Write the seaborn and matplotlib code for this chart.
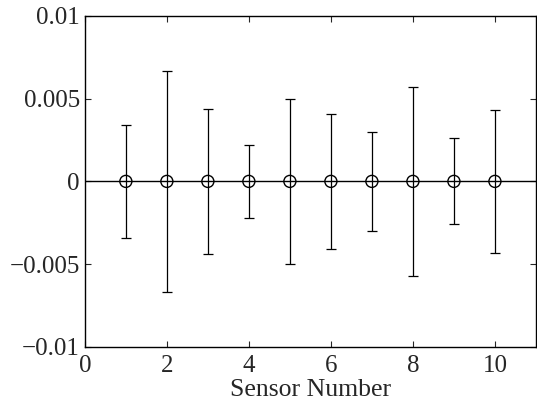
import numpy as np
import pandas as pd
import seaborn as sns
import matplotlib.pyplot as plt

sensors = [1, 2, 3, 4, 5, 6, 7, 8, 9, 10]
mean_err = [0, 0, 0, 0, 0, 0, 0, 0, 0, 0]
std_err = [0.0034, 0.0067, 0.0044, 0.0022, 0.0050, 0.0041, 0.0030, 0.0057, 0.0026, 0.0043]

df = pd.DataFrame({"sensor": sensors, "mean": mean_err, "std": std_err})

sns.set_style("ticks")
plt.rcParams["font.family"] = ["Liberation Serif", "DejaVu Serif"]

fig = plt.figure(figsize=(5.37, 4.09), dpi=100)
ax = fig.add_axes([0.158, 0.152, 0.840, 0.809])

ax.axhline(0, color="black", lw=1.0, zorder=1)
ax.errorbar(df["sensor"], df["mean"], yerr=df["std"], fmt="none",
            ecolor="black", elinewidth=0.9, capsize=3.5, capthick=0.9, zorder=2)
sns.scatterplot(data=df, x="sensor", y="mean", ax=ax, marker="o", s=75,
                facecolor="none", edgecolor="black", linewidth=1.0, zorder=3)

ax.set_xlim(0, 11)
ax.set_ylim(-0.01, 0.01)
ax.set_xticks([0, 2, 4, 6, 8, 10])
ax.set_yticks([-0.01, -0.005, 0, 0.005, 0.01])
ax.set_yticklabels(["\u22120.01", "\u22120.005", "0", "0.005", "0.01"])
ax.set_xlabel("Sensor Number", fontsize=18.5, labelpad=1)
ax.set_ylabel("")
ax.tick_params(direction="in", top=True, right=True, length=4, width=0.8,
               labelsize=18)
ax.tick_params(axis="x", pad=6)
ax.tick_params(axis="y", pad=3.5)
for s in ax.spines.values():
    s.set_visible(True)
    s.set_linewidth(1.0)
    s.set_color("black")

fig.savefig("out.png", dpi=100)
